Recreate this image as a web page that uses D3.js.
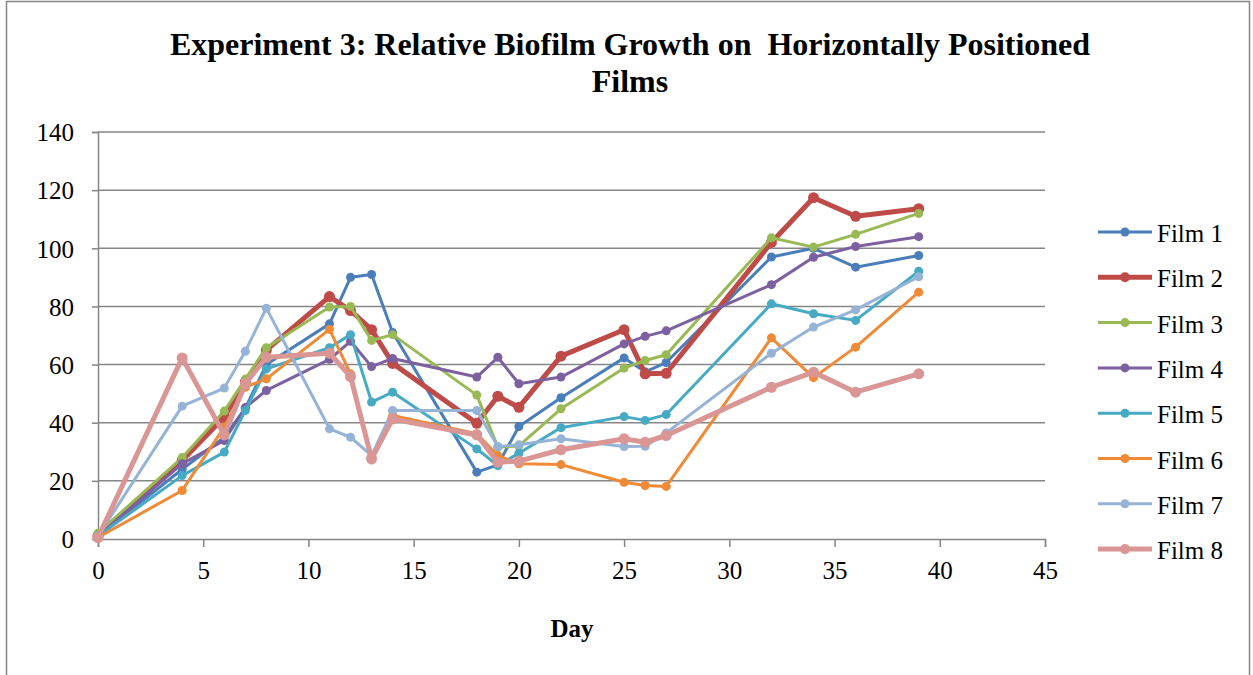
<!DOCTYPE html>
<html>
<head>
<meta charset="utf-8">
<script src="https://cdn.jsdelivr.net/npm/d3@7"></script>
<style>
  body { margin: 0; background: #fff; }
  svg { display: block; }
</style>
</head>
<body>
<svg id="chart" width="1253" height="675" font-family="'Liberation Serif', 'Times New Roman', serif"></svg>
<script>
// data
var days = [0, 4, 6, 7, 8, 11, 12, 13, 14, 18, 19, 20, 22, 25, 26, 27, 32, 34, 36, 39];

var film1 = [1, 24, 35, 45, 60, 74, 90, 91, 71, 23, 25.5, 38.7, 48.6, 62.3, 57.5, 60.7, 97, 100, 93.5, 97.5];
var film2 = [1, 27, 42, 54, 65, 83.4, 78.6, 72, 60.4, 39.8, 49.1, 45.3, 62.9, 72, 56.8, 57, 102, 117.4, 111, 113.6];
var film3 = [2, 28, 44, 55, 65.8, 79.8, 80, 68.3, 70.3, 49.5, 31.6, 32, 44.8, 58.8, 61.4, 63.4, 103.6, 100.4, 104.8, 112];
var film4 = [1, 25.9, 33.9, 45.2, 51.1, 61.8, 68, 59.3, 62.1, 55.7, 62.5, 53.4, 55.7, 67.1, 69.7, 71.6, 87.5, 96.9, 100.6, 104];
var film5 = [1, 21.8, 29.9, 44.2, 58.5, 65.8, 70.3, 47.1, 50.5, 31, 25.3, 29.5, 38.3, 42.1, 40.8, 42.8, 80.9, 77.5, 75.2, 92.1];
var film6 = [0.5, 16.7, 38.5, 52.2, 55.1, 72.1, 56.8, 27.2, 42.5, 36.2, 28.7, 25.9, 25.6, 19.5, 18.4, 18.1, 69.2, 55.5, 66, 84.9];
var film7 = [1, 45.7, 51.9, 64.6, 79.4, 37.9, 35, 28.7, 44.2, 44.2, 31.8, 32.4, 34.5, 31.8, 31.9, 36.5, 63.9, 72.9, 78.8, 90.2];
var film8 = [0.5, 62.3, 35.8, 53.4, 62.5, 63.9, 55.9, 27.6, 41.3, 35.8, 26.4, 26.8, 30.7, 34.5, 33.3, 35.6, 52.2, 57.4, 50.5, 56.8];

var seriesNames = ["Film 1", "Film 2", "Film 3", "Film 4", "Film 5", "Film 6", "Film 7", "Film 8"];
var seriesValues = [film1, film2, film3, film4, film5, film6, film7, film8];
var seriesColors = ["#4A7EBB", "#BE4B48", "#98B954", "#7D60A0", "#46AAC5", "#F08A36", "#95B3D7", "#D99694"];
var seriesWidths = [3, 5, 3, 3, 3, 3, 3, 5];

var xTicks = [0, 5, 10, 15, 20, 25, 30, 35, 40, 45];
var yTicks = [0, 20, 40, 60, 80, 100, 120, 140];

var serif = "'Liberation Serif', 'Times New Roman', serif";
var svg = d3.select("#chart");

// chart frame
svg.append("rect")
    .attr("x", 6.5).attr("y", 1.5).attr("width", 1243).attr("height", 700)
    .attr("fill", "#fff").attr("stroke", "#868686").attr("stroke-width", 1.5);

var margin = {left: 98, right: 1045, top: 132, bottom: 539};

var x = d3.scaleLinear().domain([0, 45]).range([margin.left, margin.right]);
var y = d3.scaleLinear().domain([0, 140]).range([margin.bottom, margin.top]);

// title
var title = svg.append("text")
    .attr("text-anchor", "middle")
    .attr("font-family", serif)
    .attr("font-weight", "bold").attr("font-size", 32);
title.append("tspan").attr("x", 630).attr("y", 55).text("Experiment 3: Relative Biofilm Growth on\u00a0\u00a0Horizontally Positioned");
title.append("tspan").attr("x", 630).attr("y", 92).text("Films");

// gridlines
svg.append("g").selectAll("line").data(yTicks.filter(function(d){ return d > 0; })).enter().append("line")
    .attr("x1", margin.left).attr("x2", margin.right)
    .attr("y1", function(d){ return y(d); }).attr("y2", function(d){ return y(d); })
    .attr("stroke", "#868686").attr("stroke-width", 1.5);

// y axis
var yAxis = svg.append("g")
    .attr("transform", "translate(" + margin.left + ",0)")
    .call(d3.axisLeft(y).tickValues(yTicks).tickSize(6).tickPadding(18));
// x axis
var xAxis = svg.append("g")
    .attr("transform", "translate(0," + margin.bottom + ")")
    .call(d3.axisBottom(x).tickValues(xTicks).tickSize(8).tickPadding(14));

[xAxis, yAxis].forEach(function(ax){
    ax.attr("font-family", serif).attr("font-size", 25);
    ax.select(".domain").attr("stroke", "#868686").attr("stroke-width", 1.5);
    ax.selectAll(".tick line").attr("stroke", "#868686").attr("stroke-width", 1.5);
    ax.selectAll(".tick text").attr("fill", "#000");
});
yAxis.selectAll(".tick text").attr("dy", "0.35em");

// x axis title
svg.append("text")
    .attr("x", 572).attr("y", 637)
    .attr("text-anchor", "middle")
    .attr("font-family", serif)
    .attr("font-weight", "bold").attr("font-size", 25)
    .text("Day");

// lines
var line = d3.line()
    .x(function(d, i){ return x(days[i]); })
    .y(function(d){ return y(d); });

var plot = svg.append("g");
seriesValues.forEach(function(vals, s){
    var g = plot.append("g");
    g.append("path")
        .datum(vals)
        .attr("d", line)
        .attr("fill", "none")
        .attr("stroke", seriesColors[s])
        .attr("stroke-width", seriesWidths[s])
        .attr("stroke-linejoin", "round");
    g.selectAll("circle").data(vals).enter().append("circle")
        .attr("cx", function(d, i){ return x(days[i]); })
        .attr("cy", function(d){ return y(d); })
        .attr("r", seriesWidths[s] > 3 ? 5.5 : 4.5)
        .attr("fill", seriesColors[s]);
});

// legend
var legend = svg.append("g");
var rows = legend.selectAll("g").data(seriesNames).enter().append("g")
    .attr("transform", function(d, i){ return "translate(1098," + (232 + i * 45.3) + ")"; });
rows.append("line")
    .attr("x1", 0).attr("x2", 54).attr("y1", 0).attr("y2", 0)
    .attr("stroke", function(d, i){ return seriesColors[i]; })
    .attr("stroke-width", function(d, i){ return seriesWidths[i]; });
rows.append("circle")
    .attr("cx", 27).attr("cy", 0)
    .attr("r", function(d, i){ return seriesWidths[i] > 3 ? 5 : 4.5; })
    .attr("fill", function(d, i){ return seriesColors[i]; });
rows.append("text")
    .attr("x", 59).attr("y", 0).attr("dy", "0.4em")
    .attr("font-family", serif)
    .attr("font-size", 25)
    .text(function(d){ return d; });
</script>
</body>
</html>
